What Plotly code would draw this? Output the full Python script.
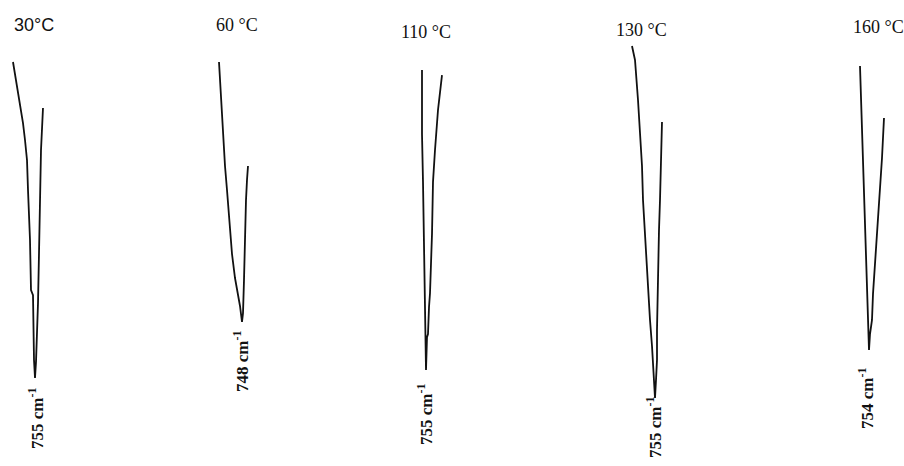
import plotly.graph_objects as go

# ---- data (wavenumber in cm-1, transmittance in arbitrary %T) ----
temps = ["30°C", "60 °C", "110 °C", "130 °C", "160 °C"]
peak_wn = [755, 748, 755, 755, 754]

wn_30 = [777, 775, 773, 770, 767, 765, 763, 762, 760, 759, 757, 756, 755, 754, 753, 752, 751, 750, 749, 747]
T_30 = [92, 89, 85.7, 80.7, 76.7, 72.5, 67.5, 60, 47.5, 35, 33.7, 17.5, 13, 17, 24.2, 31.7, 44.2, 60, 70, 80.5]

wn_60 = [771, 769, 767, 765, 763, 761, 760, 758, 755, 752, 750, 748, 747, 746, 745, 744, 743, 742]
T_60 = [92, 82.5, 74, 66, 60, 54, 50, 44, 38, 34, 31, 27, 29.2, 37.5, 49, 57.5, 62.5, 66]

wn_110 = [759, 759, 758, 757, 756, 755, 755, 754, 753, 752, 751, 749, 748, 746, 743, 739]
T_110 = [90, 74, 62, 49, 32.5, 24, 15, 23.2, 24, 30.7, 34.2, 49, 62, 70, 80, 88.7]

wn_130 = [778, 775, 772, 770, 768, 767, 765, 764, 762, 760, 758, 757, 756, 755,
          754, 753, 753, 752, 751, 750, 749, 748]
T_130 = [96, 92.5, 82.5, 75, 66, 57.5, 49, 42.5, 34, 27.5, 21, 17.5, 12.5, 8,
         12.5, 17.5, 25, 41, 50, 57.5, 67.5, 77]

wn_160 = [763, 762, 761, 760, 759, 758, 757, 756, 755, 754, 753, 751, 750, 748, 746, 743, 741, 739]
T_160 = [91, 82.5, 75, 66, 57.5, 49, 41, 35, 26, 20, 24, 27.5, 34, 41, 50, 61, 68, 78]

series_wn = [wn_30, wn_60, wn_110, wn_130, wn_160]
series_T = [T_30, T_60, T_110, T_130, T_160]

# ---- layout / positions (pixels of the 904x466 canvas) ----
W, H = 904, 466
peak_px = [35, 242, 426, 655, 869]          # horizontal pixel of each band minimum
title_px = [(34, 25), (237, 25), (426, 32), (641, 30), (878, 27)]
title_fonts = ["Liberation Sans", "Liberation Serif", "Liberation Serif",
               "Liberation Serif", "Liberation Serif"]
label_px = [(36, 419), (241, 362), (425, 415), (654, 428), (866, 399)]
px_per_cm = 1.0
y_range = [-9, 107.5]

fig = go.Figure()
n = len(temps)
dom_w = W / n
for i in range(n):
    ax = "" if i == 0 else str(i + 1)
    fig.add_trace(go.Scatter(
        x=series_wn[i], y=series_T[i], mode="lines",
        line=dict(color="#111111", width=1.8),
        xaxis="x" + ax, yaxis="y", showlegend=False, hoverinfo="skip"))
    left = i * dom_w
    p = (peak_px[i] - left) / px_per_cm
    rng = [peak_wn[i] + p, peak_wn[i] + p - dom_w / px_per_cm]
    fig.layout["xaxis" + ax] = dict(domain=[i / n, (i + 1) / n], range=rng,
                                    visible=False, fixedrange=True,
                                    anchor="y")

fig.update_layout(
    width=W, height=H,
    margin=dict(l=0, r=0, t=0, b=0),
    paper_bgcolor="white", plot_bgcolor="white",
    yaxis=dict(range=y_range, visible=False, domain=[0, 1]),
)

for i in range(n):
    tx, ty = title_px[i]
    fig.add_annotation(
        text=temps[i], xref="paper", yref="paper",
        x=tx / W, y=1 - ty / H, xanchor="center", yanchor="middle",
        showarrow=False,
        font=dict(family=title_fonts[i], size=18, color="#111111"))
    lx, ly = label_px[i]
    fig.add_annotation(
        text="<b>%d cm<sup>-1</sup></b>" % peak_wn[i], xref="paper", yref="paper",
        x=lx / W, y=1 - ly / H, xanchor="center", yanchor="middle",
        textangle=-90, showarrow=False,
        font=dict(family="Liberation Serif", size=17, color="#111111"))

fig.write_html("out.html")
